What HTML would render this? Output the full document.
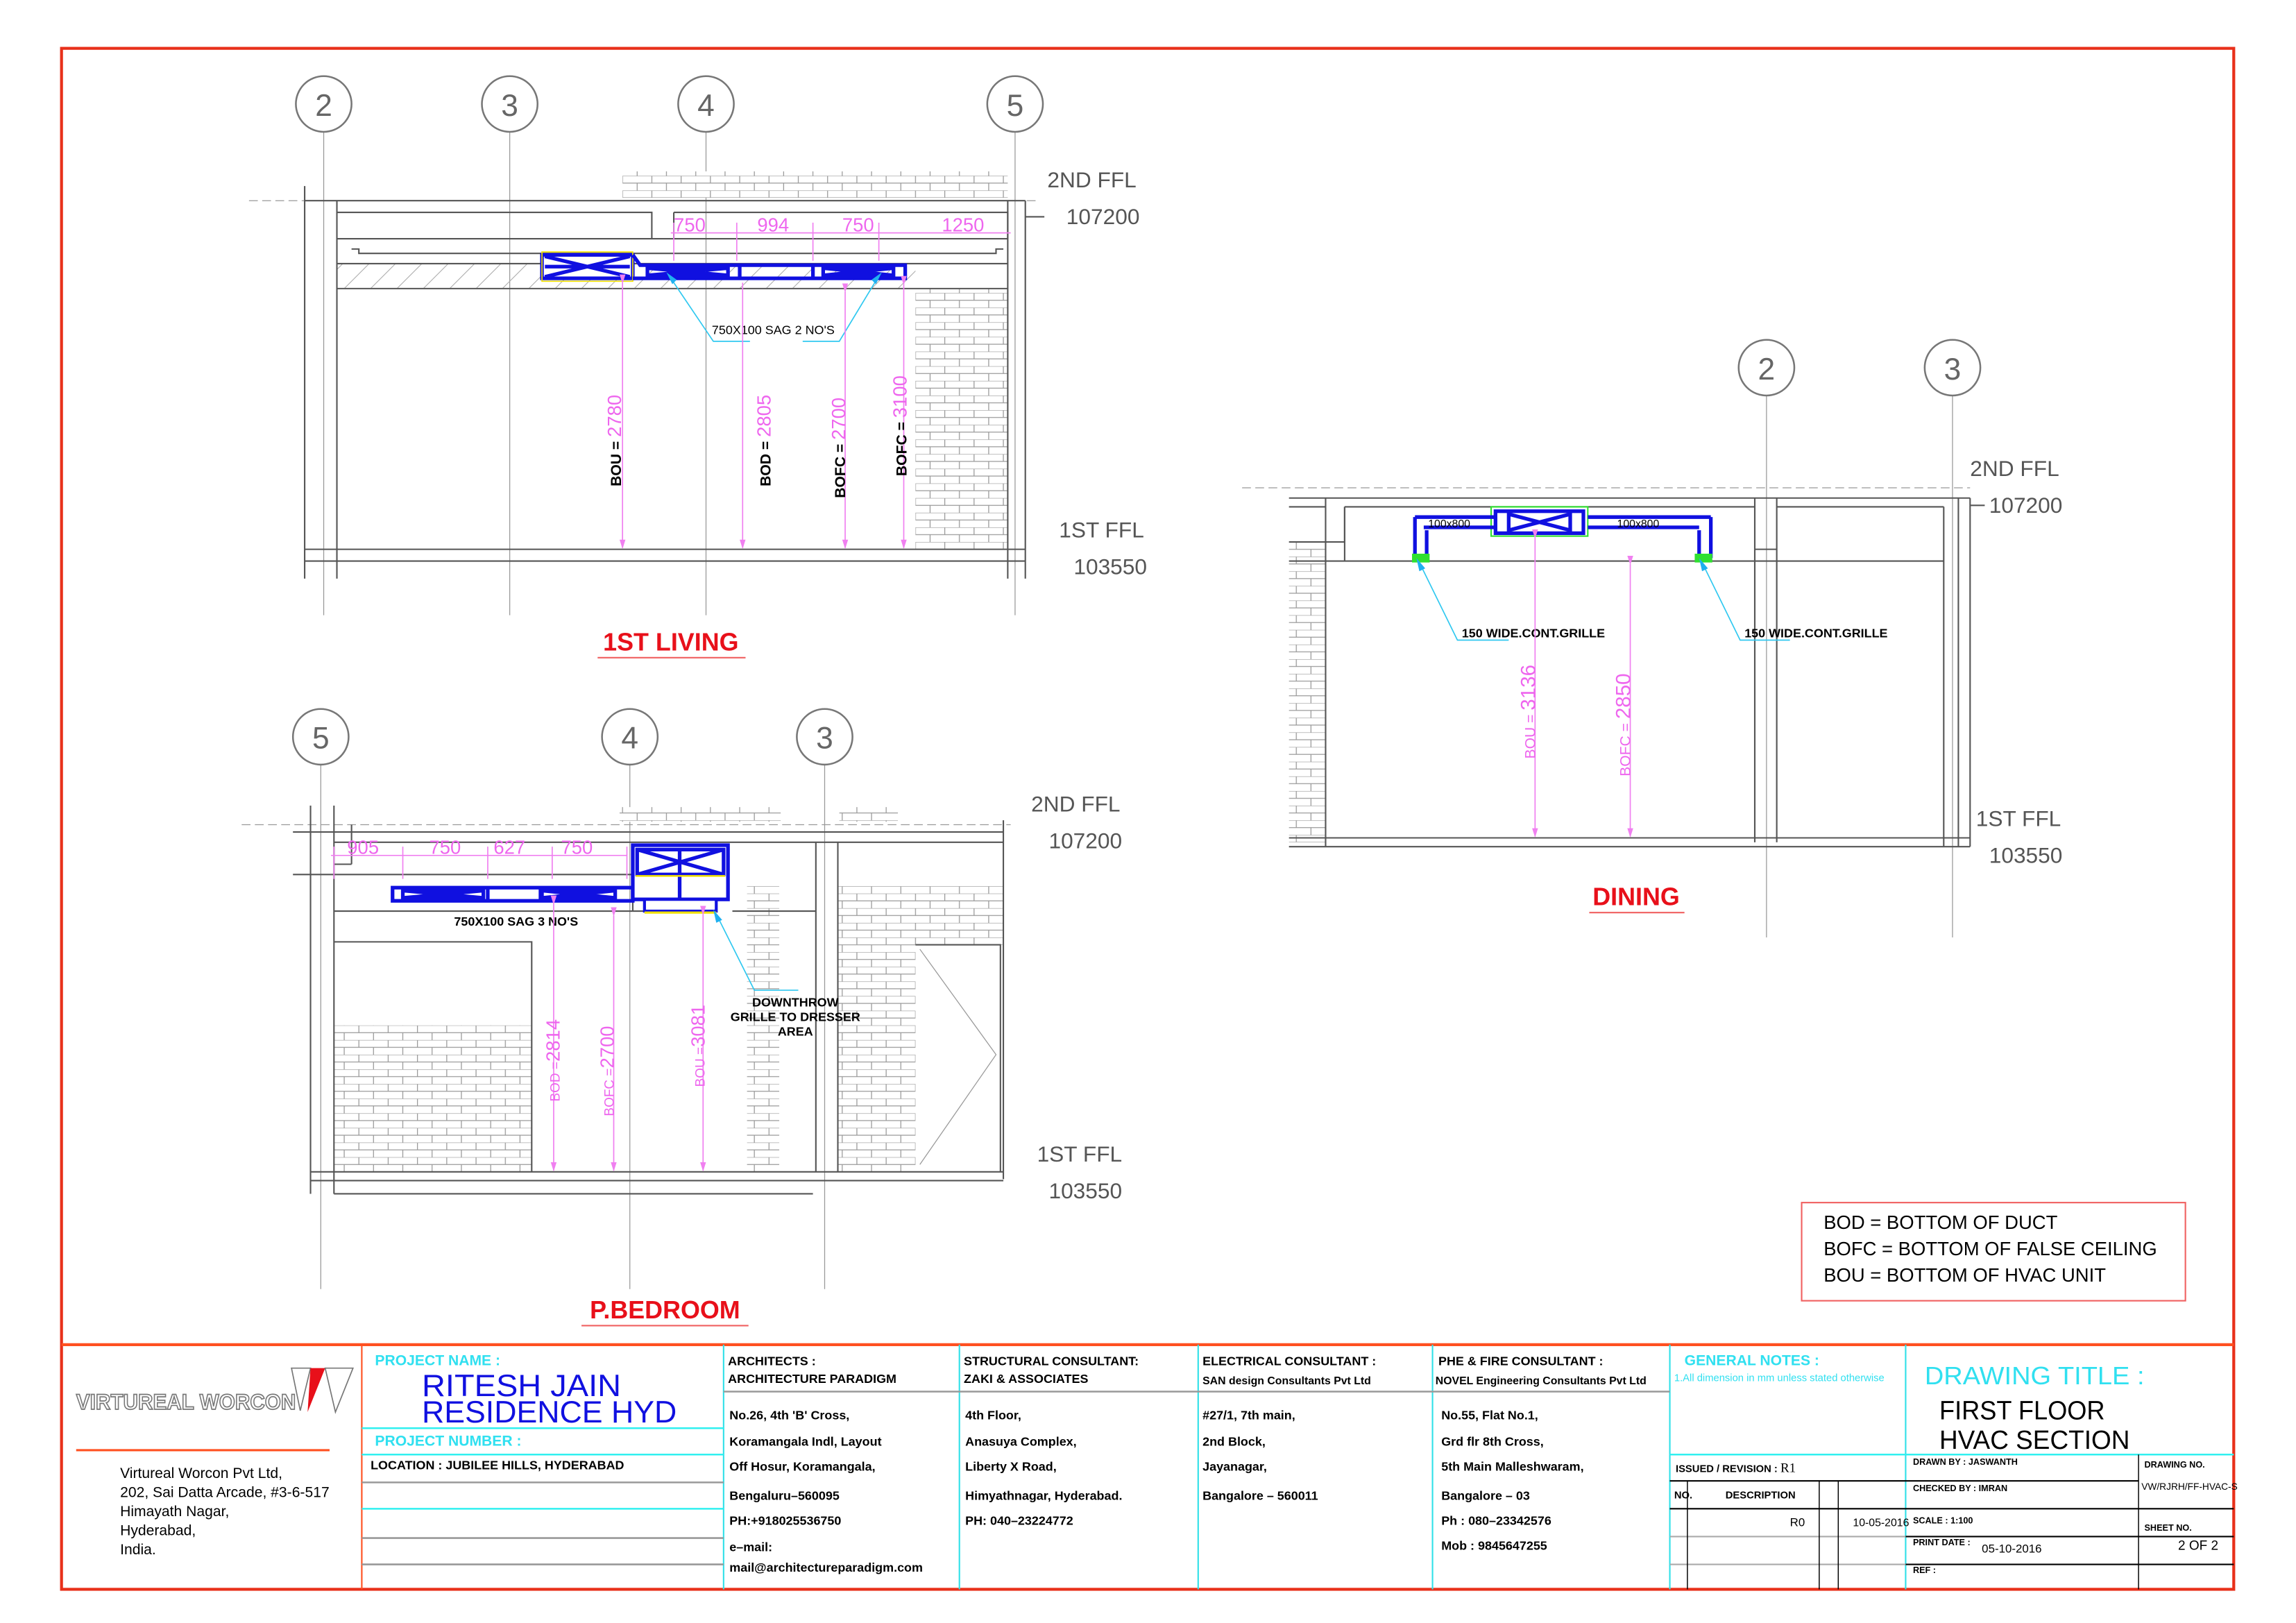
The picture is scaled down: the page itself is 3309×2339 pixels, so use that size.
<!DOCTYPE html>
<html><head><meta charset="utf-8"><style>
html,body{margin:0;padding:0;background:#fff;}
svg{display:block;}
text{font-family:"Liberation Sans",sans-serif;}
.g{stroke:#555;fill:none;stroke-width:1;}
.gl{stroke:#999;fill:none;stroke-width:0.6;}
.pk{stroke:#f080f0;stroke-width:0.8;fill:none;}
.bl{stroke:#1010e0;stroke-width:2.5;fill:none;}
.cy{stroke:#30c8f0;stroke-width:0.8;fill:none;}
.lvl{fill:#555;font-size:15px;}
.dim{fill:#ee66ee;font-size:13px;}
.circ{fill:#fff;stroke:#777;stroke-width:1.2;}
.ct{fill:#666;font-size:21px;text-anchor:middle;}
.tb{fill:#000;font-size:8.5px;font-weight:bold;}
</style></head><body>
<svg width="3309" height="2339" viewBox="0 0 1567.5 1108" preserveAspectRatio="none" xmlns="http://www.w3.org/2000/svg">
<defs>
<pattern id="brick" width="20" height="10" patternUnits="userSpaceOnUse">
<rect width="20" height="10" fill="#fff"/>
<path d="M0 0H20M0 5H20M5 0V5M15 5V10" stroke="#999" stroke-width="0.6"/>
</pattern>
<pattern id="hatch" width="18" height="18" patternUnits="userSpaceOnUse">
<path d="M0 18L18 0" stroke="#aaa" stroke-width="0.5"/>
</pattern>
<marker id="ar" markerWidth="8" markerHeight="8" refX="7" refY="4" orient="auto"><path d="M0 1.5L8 4L0 6.5Z" fill="#f080f0"/></marker>
</defs>
<rect x="0" y="0" width="1568" height="1108" fill="#fff"/>
<rect x="42" y="33" width="1483" height="1052" fill="none" stroke="#e8301a" stroke-width="2"/>

<!-- ============ 1ST LIVING ============ -->
<g>
<line class="gl" x1="221" y1="90" x2="221" y2="420"/>
<line class="gl" x1="348" y1="90" x2="348" y2="420"/>
<line class="gl" x1="482" y1="90" x2="482" y2="420"/>
<line class="gl" x1="693" y1="90" x2="693" y2="420"/>
<circle class="circ" cx="221" cy="71" r="19"/><text class="ct" x="221" y="79">2</text>
<circle class="circ" cx="348" cy="71" r="19"/><text class="ct" x="348" y="79">3</text>
<circle class="circ" cx="482" cy="71" r="19"/><text class="ct" x="482" y="79">4</text>
<circle class="circ" cx="693" cy="71" r="19"/><text class="ct" x="693" y="79">5</text>
<rect x="425" y="117" width="263" height="18" fill="url(#brick)"/>
<rect x="625" y="197" width="63" height="178" fill="url(#brick)"/>
<rect x="230" y="180" width="395" height="17" fill="url(#hatch)"/>
<line class="gl" x1="170" y1="137" x2="710" y2="137" stroke-dasharray="6 3"/>
<path class="g" d="M208 137H700M230 145H445V163M460 145H688V163M230 163H688M230 180H688M230 197H688M208 375H700M208 383H700"/>
<path class="g" d="M208 127V395M230 137V395M688 137V395M700 137V395M460 145V163"/>
<path class="g" d="M240 170H245V173H680V170H685" />
<line x1="700" y1="148" x2="713" y2="148" stroke="#555"/>
<text class="lvl" x="715" y="128">2ND FFL</text>
<text class="lvl" x="728" y="153">107200</text>
<text class="lvl" x="723" y="367">1ST FFL</text>
<text class="lvl" x="733" y="392">103550</text>
<line class="pk" x1="458" y1="159" x2="690" y2="159"/>
<path class="pk" d="M460 152V178M503 152V178M555 152V178M600 152V178"/>
<text class="dim" x="460" y="158">750</text><text class="dim" x="517" y="158">994</text>
<text class="dim" x="575" y="158">750</text><text class="dim" x="643" y="158">1250</text>
<rect x="370" y="174" width="62" height="16" fill="#fff" stroke="#1010e0" stroke-width="2.5"/>
<rect x="370" y="172" width="62" height="20" fill="none" stroke="#f0e000" stroke-width="0.8"/>
<path class="bl" stroke-width="1.3" d="M372 175L430 189M372 189L430 175M372 182H430"/>
<path class="bl" d="M432 174L437 181H618V190H432"/>
<path class="bl" stroke-width="1.3" d="M442 183H497V188H442ZM562 183H610V188H562ZM505 181V190M555 181V190M442 183L497 188M442 188L497 183M562 183L610 188M562 188L610 183"/>
<path class="cy" d="M458 190L487 233H512M599 190L573 233H548"/>
<path d="M455 186l4 8 3-3z" fill="#20b0f0"/><path d="M602 186l-4 8-3-3z" fill="#20b0f0"/>
<text x="486" y="228" font-size="8.5" fill="#000">750X100 SAG 2 NO'S</text>
<line class="pk" x1="425" y1="193" x2="425" y2="374" marker-start="url(#ar)" marker-end="url(#ar)"/>
<line class="pk" x1="507" y1="193" x2="507" y2="374" marker-end="url(#ar)"/>
<line class="pk" x1="577" y1="199" x2="577" y2="374" marker-start="url(#ar)" marker-end="url(#ar)"/>
<line class="pk" x1="617" y1="194" x2="617" y2="374" marker-start="url(#ar)" marker-end="url(#ar)"/>
<text transform="translate(424,332) rotate(-90)" font-size="10"><tspan font-weight="bold" fill="#000">BOU = </tspan><tspan fill="#ee66ee" font-size="13">2780</tspan></text>
<text transform="translate(526,332) rotate(-90)" font-size="10"><tspan font-weight="bold" fill="#000">BOD = </tspan><tspan fill="#ee66ee" font-size="13">2805</tspan></text>
<text transform="translate(577,340) rotate(-90)" font-size="10"><tspan font-weight="bold" fill="#000">BOFC = </tspan><tspan fill="#ee66ee" font-size="13">2700</tspan></text>
<text transform="translate(619,325) rotate(-90)" font-size="10"><tspan font-weight="bold" fill="#000">BOFC = </tspan><tspan fill="#ee66ee" font-size="13">3100</tspan></text>
<text x="458" y="444" font-size="17" font-weight="bold" fill="#e8101a" text-anchor="middle">1ST LIVING</text>
<line x1="408" y1="449" x2="509" y2="449" stroke="#f06060" stroke-width="1"/>
</g>

<!-- ============ DINING ============ -->
<g>
<line class="gl" x1="1206" y1="270" x2="1206" y2="640"/>
<line class="gl" x1="1333" y1="270" x2="1333" y2="640"/>
<circle class="circ" cx="1206" cy="251" r="19"/><text class="ct" x="1206" y="259">2</text>
<circle class="circ" cx="1333" cy="251" r="19"/><text class="ct" x="1333" y="259">3</text>
<rect x="880" y="370" width="25" height="205" fill="url(#brick)"/>
<line class="gl" x1="848" y1="333" x2="1345" y2="333" stroke-dasharray="6 3"/>
<path class="g" d="M880 340H1345M880 346H905M918 346H1198M1213 346H1327M880 370H918V346M880 383H1327M880 572H1345M880 578H1345"/>
<path class="g" d="M905 340V578M918 346V383M1198 340V575M1213 340V575M1198 375H1213M1327 346V578M1337 340V578M1345 340V578"/>
<line x1="1345" y1="345" x2="1355" y2="345" stroke="#555"/>
<text class="lvl" x="1345" y="325">2ND FFL</text>
<text class="lvl" x="1358" y="350">107200</text>
<text class="lvl" x="1349" y="564">1ST FFL</text>
<text class="lvl" x="1358" y="589">103550</text>
<rect x="1018" y="346" width="66" height="20" fill="none" stroke="#30e030" stroke-width="1"/>
<rect x="1021" y="349" width="60" height="15" fill="#fff" stroke="#1010e0" stroke-width="2.5"/>
<path class="bl" stroke-width="1.3" d="M1030 351L1072 362M1030 362L1072 351M1030 350V364M1072 350V364"/>
<path class="bl" d="M966 353H1021M1084 353H1168M972 360H1021M1084 360H1160M966 353V381M974 362V381M1168 353V381M1160 362V381"/>
<rect x="964" y="378" width="12" height="6" fill="#30e030"/>
<rect x="1157" y="378" width="12" height="6" fill="#30e030"/>
<text x="975" y="360" font-size="7.5" fill="#000">100x800</text>
<text x="1104" y="360" font-size="7.5" fill="#000">100x800</text>
<path class="cy" d="M970 386L995 437H1030M1163 386L1188 437H1222"/>
<path d="M967 381l2 9 4-2z" fill="#20b0f0"/><path d="M1160 381l2 9 4-2z" fill="#20b0f0"/>
<text x="998" y="435" font-size="8.5" font-weight="bold" fill="#000">150 WIDE.CONT.GRILLE</text>
<text x="1191" y="435" font-size="8.5" font-weight="bold" fill="#000">150 WIDE.CONT.GRILLE</text>
<line class="pk" x1="1048" y1="367" x2="1048" y2="571" marker-start="url(#ar)" marker-end="url(#ar)"/>
<line class="pk" x1="1113" y1="385" x2="1113" y2="571" marker-start="url(#ar)" marker-end="url(#ar)"/>
<text transform="translate(1048,518) rotate(-90)" font-size="10" fill="#ee66ee">BOU = <tspan font-size="14">3136</tspan></text>
<text transform="translate(1113,530) rotate(-90)" font-size="10" fill="#ee66ee">BOFC = <tspan font-size="14">2850</tspan></text>
<text x="1117" y="618" font-size="17" font-weight="bold" fill="#e8101a" text-anchor="middle">DINING</text>
<line x1="1085" y1="623" x2="1150" y2="623" stroke="#f06060" stroke-width="1"/>
</g>

<!-- ============ P.BEDROOM ============ -->
<g>
<line class="gl" x1="219" y1="522" x2="219" y2="880"/>
<line class="gl" x1="430" y1="522" x2="430" y2="880"/>
<line class="gl" x1="563" y1="522" x2="563" y2="880"/>
<circle class="circ" cx="219" cy="503" r="19"/><text class="ct" x="219" y="511">5</text>
<circle class="circ" cx="430" cy="503" r="19"/><text class="ct" x="430" y="511">4</text>
<circle class="circ" cx="563" cy="503" r="19"/><text class="ct" x="563" y="511">3</text>
<rect x="423" y="551" width="110" height="10" fill="url(#brick)"/>
<rect x="573" y="551" width="40" height="10" fill="url(#brick)"/>
<rect x="228" y="700" width="135" height="100" fill="url(#brick)"/>
<rect x="510" y="605" width="22" height="195" fill="url(#brick)"/>
<rect x="572" y="605" width="113" height="40" fill="url(#brick)"/>
<rect x="572" y="645" width="53" height="155" fill="url(#brick)"/>
<line class="gl" x1="165" y1="563" x2="690" y2="563" stroke-dasharray="6 3"/>
<path class="g" d="M200 568H685M228 575H685M228 590H240M200 597H432M228 622H440M500 622H557M212 800H685M212 806H685M228 815H555"/>
<path class="g" d="M212 550V815M228 550V815M240 563V590M557 575V800M572 575V800M685 560V805M228 643H363V800M625 645H683V800M432 577V622"/>
<path class="gl" d="M628 648L680 720L628 795"/>
<text class="lvl" x="704" y="554">2ND FFL</text>
<text class="lvl" x="716" y="579">107200</text>
<text class="lvl" x="708" y="793">1ST FFL</text>
<text class="lvl" x="716" y="818">103550</text>
<line class="pk" x1="226" y1="584" x2="428" y2="584"/>
<path class="pk" d="M228 578V600M275 578V600M333 578V600M377 578V600M428 578V600"/>
<text class="dim" x="237" y="583">905</text><text class="dim" x="293" y="583">750</text>
<text class="dim" x="337" y="583">627</text><text class="dim" x="383" y="583">750</text>
<path class="bl" d="M268 606H432V615H268ZM333 606V615M369 606V615"/>
<path class="bl" stroke-width="1.3" d="M275 608H330V613H275ZM370 608H420V613H370ZM275 608L330 613M275 613L330 608M370 608L420 613M370 613L420 608"/>
<rect x="432" y="577" width="65" height="37" fill="#fff" stroke="#1010e0" stroke-width="2.5"/>
<path class="bl" stroke-width="1.3" d="M435 580H494V597H435ZM435 580L494 597M435 597L494 580M464 580V614"/>
<line x1="434" y1="598" x2="495" y2="598" stroke="#f0e000" stroke-width="1.2"/>
<rect x="440" y="614" width="49" height="8" fill="#fff" stroke="#1010e0" stroke-width="2"/>
<line x1="440" y1="623" x2="489" y2="623" stroke="#f0e000" stroke-width="1.5"/>
<text x="310" y="632" font-size="8.5" font-weight="bold" fill="#000">750X100 SAG 3 NO'S</text>
<path class="cy" d="M490 626L515 676H545"/>
<path d="M487 621l2 9 4-2z" fill="#20b0f0"/>
<text x="543" y="687" font-size="8.5" font-weight="bold" fill="#000" text-anchor="middle">DOWNTHROW</text>
<text x="543" y="697" font-size="8.5" font-weight="bold" fill="#000" text-anchor="middle">GRILLE TO DRESSER</text>
<text x="543" y="707" font-size="8.5" font-weight="bold" fill="#000" text-anchor="middle">AREA</text>
<line class="pk" x1="378" y1="617" x2="378" y2="799" marker-start="url(#ar)" marker-end="url(#ar)"/>
<line class="pk" x1="419" y1="625" x2="419" y2="799" marker-start="url(#ar)" marker-end="url(#ar)"/>
<line class="pk" x1="480" y1="624" x2="480" y2="799" marker-start="url(#ar)" marker-end="url(#ar)"/>
<text transform="translate(382,752) rotate(-90)" font-size="9" fill="#ee66ee">BOD =<tspan font-size="13">2814</tspan></text>
<text transform="translate(419,762) rotate(-90)" font-size="9" fill="#ee66ee">BOFC =<tspan font-size="13">2700</tspan></text>
<text transform="translate(481,742) rotate(-90)" font-size="9" fill="#ee66ee">BOU =<tspan font-size="13">3081</tspan></text>
<text x="454" y="900" font-size="17" font-weight="bold" fill="#e8101a" text-anchor="middle">P.BEDROOM</text>
<line x1="397" y1="905" x2="511" y2="905" stroke="#f06060" stroke-width="1"/>
</g>

<rect x="1230" y="821" width="262" height="67" fill="none" stroke="#f06060" stroke-width="1"/>
<text x="1245" y="839" font-size="13" fill="#000">BOD = BOTTOM OF DUCT</text>
<text x="1245" y="857" font-size="13" fill="#000">BOFC = BOTTOM OF FALSE CEILING</text>
<text x="1245" y="875" font-size="13" fill="#000">BOU = BOTTOM OF HVAC UNIT</text>

<!-- ============ TITLE BLOCK ============ -->
<g>
<line x1="42" y1="918" x2="1525" y2="918" stroke="#ff5020" stroke-width="2"/>
<line x1="247" y1="918" x2="247" y2="1085" stroke="#ff5020" stroke-width="1"/>
<path d="M494 918V1085M655 918V1085M818 918V1085M978 918V1085M1140 918V1085M1301 918V1085" stroke="#30e0e8" stroke-width="1"/>
<path d="M494 950H1140" stroke="#999" stroke-width="1.2"/>
<path d="M247 975H494M247 993H494M247 1030H494M1140 993H1525" stroke="#30f0f0" stroke-width="1.2"/>
<path d="M247 1012H494M247 1050H494M247 1068H494" stroke="#999" stroke-width="1.2"/>
<path d="M1140 1011H1301M1140 1030H1301M1301 1011H1460M1301 1030H1525M1301 1049H1525M1301 1068H1525" stroke="#000" stroke-width="1"/>
<path d="M1140 1049H1301M1140 1068H1301" stroke="#aaa" stroke-width="1"/>
<path d="M1152 1011V1085M1242 1011V1085M1255 1011V1085M1460 993V1085" stroke="#000" stroke-width="0.7"/>
<text x="52" y="962" font-size="15" font-weight="bold" fill="#fff" stroke="#777" stroke-width="0.8" textLength="150" lengthAdjust="spacingAndGlyphs">VIRTUREAL WORCON</text>
<path d="M199 934H212L205 963Z" fill="none" stroke="#777" stroke-width="0.8"/>
<path d="M212 934H222L210 964Z" fill="#e8101a"/>
<path d="M222 934H241L229 964Z" fill="none" stroke="#777" stroke-width="0.8"/>
<line x1="52" y1="990" x2="225" y2="990" stroke="#ff5020" stroke-width="1.5"/>
<g font-family="Liberation Serif,serif" font-size="10" fill="#000">
<text x="82" y="1009">Virtureal Worcon Pvt Ltd,</text>
<text x="82" y="1022">202, Sai Datta Arcade, #3-6-517</text>
<text x="82" y="1035">Himayath Nagar,</text>
<text x="82" y="1048">Hyderabad,</text>
<text x="82" y="1061">India.</text>
</g>
<text x="256" y="932" font-size="10" font-weight="bold" fill="#30e0f0">PROJECT NAME :</text>
<text x="288" y="953" font-size="21" fill="#1010e0" textLength="136" lengthAdjust="spacingAndGlyphs">RITESH  JAIN</text>
<text x="288" y="971" font-size="21" fill="#1010e0" textLength="174" lengthAdjust="spacingAndGlyphs">RESIDENCE  HYD</text>
<text x="256" y="987" font-size="10" font-weight="bold" fill="#30e0f0">PROJECT NUMBER :</text>
<text class="tb" x="253" y="1003">LOCATION :  JUBILEE  HILLS,  HYDERABAD</text>
<g class="tb">
<text x="497" y="932">ARCHITECTS :</text><text x="497" y="944">ARCHITECTURE  PARADIGM</text>
<text x="498" y="969">No.26,  4th  'B'  Cross,</text><text x="498" y="987">Koramangala  Indl,  Layout</text>
<text x="498" y="1004">Off  Hosur,  Koramangala,</text><text x="498" y="1024">Bengaluru–560095</text>
<text x="498" y="1041">PH:+918025536750</text><text x="498" y="1059">e–mail:</text>
<text x="498" y="1073">mail@architectureparadigm.com</text>
<text x="658" y="932">STRUCTURAL  CONSULTANT:</text><text x="658" y="944">ZAKI  &amp;  ASSOCIATES</text>
<text x="659" y="969">4th  Floor,</text><text x="659" y="987">Anasuya  Complex,</text>
<text x="659" y="1004">Liberty  X  Road,</text><text x="659" y="1024">Himyathnagar,  Hyderabad.</text>
<text x="659" y="1041">PH:  040–23224772</text>
<text x="821" y="932">ELECTRICAL  CONSULTANT  :</text><text x="821" y="945" font-size="7.5">SAN  design  Consultants  Pvt  Ltd</text>
<text x="821" y="969">#27/1,  7th  main,</text><text x="821" y="987">2nd  Block,</text>
<text x="821" y="1004">Jayanagar,</text><text x="821" y="1024">Bangalore  –  560011</text>
<text x="982" y="932">PHE  &amp;  FIRE  CONSULTANT  :</text><text x="980" y="945" font-size="7.5">NOVEL  Engineering  Consultants  Pvt  Ltd</text>
<text x="984" y="969">No.55,  Flat  No.1,</text><text x="984" y="987">Grd  flr  8th  Cross,</text>
<text x="984" y="1004">5th  Main  Malleshwaram,</text><text x="984" y="1024">Bangalore  –  03</text>
<text x="984" y="1041">Ph  :  080–23342576</text><text x="984" y="1058">Mob  :  9845647255</text>
</g>
<text x="1150" y="932" font-size="10" font-weight="bold" fill="#30e0f0">GENERAL  NOTES  :</text>
<text x="1143" y="943" font-size="7" fill="#30e0f0">1.All dimension in mm unless stated otherwise</text>
<text x="1314" y="945" font-size="17" fill="#30e0f0" textLength="150" lengthAdjust="spacingAndGlyphs">DRAWING  TITLE  :</text>
<text x="1324" y="969" font-size="18" fill="#000" textLength="113" lengthAdjust="spacingAndGlyphs">FIRST  FLOOR</text>
<text x="1324" y="989" font-size="18" fill="#000" textLength="130" lengthAdjust="spacingAndGlyphs">HVAC  SECTION</text>
<text x="1144" y="1005" font-size="7" font-weight="bold" fill="#000">ISSUED  /  REVISION  :   <tspan font-family="Liberation Serif,serif" font-weight="normal" font-size="9">R1</tspan></text>
<text x="1143" y="1023" font-size="7" font-weight="bold">NO.</text>
<text x="1178" y="1023" font-size="7" font-weight="bold">DESCRIPTION</text>
<text x="1222" y="1042" font-size="8" font-family="Liberation Serif,serif">R0</text>
<text x="1265" y="1042" font-size="7.5" font-family="Liberation Serif,serif">10-05-2016</text>
<g font-size="6" font-weight="bold">
<text x="1306" y="1000">DRAWN  BY :    JASWANTH</text>
<text x="1306" y="1018">CHECKED  BY :  IMRAN</text>
<text x="1306" y="1040">SCALE : 1:100</text>
<text x="1306" y="1055">PRINT  DATE :</text>
<text x="1306" y="1074">REF :</text>
<text x="1464" y="1002">DRAWING  NO.</text>
<text x="1464" y="1045">SHEET  NO.</text>
</g>
<text x="1353" y="1060" font-size="8" font-family="Liberation Serif,serif">05-10-2016</text>
<text x="1462" y="1017" font-size="6.5" font-family="Liberation Serif,serif">VW/RJRH/FF-HVAC-S</text>
<text x="1487" y="1058" font-size="9" font-family="Liberation Serif,serif">2 OF 2</text>
</g>
</svg>
</body></html>
